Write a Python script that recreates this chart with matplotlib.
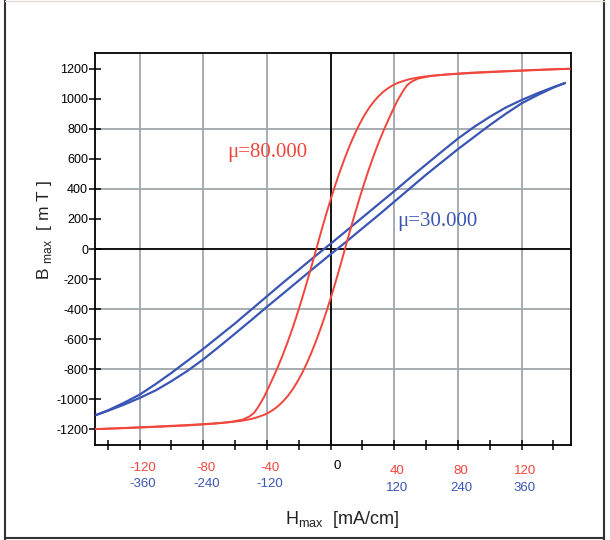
import numpy as np
import matplotlib
matplotlib.use('Agg')
import matplotlib.pyplot as plt
from matplotlib.lines import Line2D
from matplotlib.transforms import blended_transform_factory

plt.rcParams['font.family'] = ['Liberation Sans', 'DejaVu Sans']
plt.rcParams['mathtext.fontset'] = 'custom'
plt.rcParams['mathtext.rm'] = 'Liberation Sans'

RED = '#f0463c'
BLUE = '#3a55b4'
GRID = '#9ea7ab'

# mu = 80.000 loop, H in mA/cm (red scale)
red_desc_H = [-150, -135, -120, -105, -90, -80, -70, -62, -55, -51,
              -48, -46, -44, -42, -39, -36, -33, -30, -27, -24,
              -21, -18, -15, -12, -9, -6, -3, 0, 3, 6,
              9, 12, 15, 18, 21, 24, 27, 30, 33, 36,
              39, 42, 46, 50, 56, 64, 75, 90, 105, 120,
              135, 150]
red_desc_B = [-1200, -1195, -1189, -1182, -1175, -1168, -1160, -1150, -1135, -1115,
              -1090, -1060, -1025, -989, -923, -854, -782, -704, -620, -530,
              -434, -332, -225, -114, 0, 114, 224, 329, 428, 521,
              608, 689, 762, 828, 886, 937, 980, 1016, 1046, 1070,
              1090, 1105, 1120, 1132, 1144, 1154, 1163, 1172, 1180, 1187,
              1194, 1200]
red_asc_H = [-150, -135, -120, -105, -90, -75, -64, -56, -50, -46,
             -42, -39, -36, -33, -30, -27, -24, -21, -18, -15,
             -12, -9, -6, -3, 0, 3, 6, 9, 12, 15,
             18, 21, 24, 27, 30, 33, 36, 39, 42, 44,
             46, 48, 51, 55, 62, 70, 80, 90, 105, 120,
             135, 150]
red_asc_B = [-1200, -1194, -1187, -1180, -1172, -1163, -1154, -1144, -1132, -1120,
             -1105, -1090, -1070, -1046, -1016, -980, -937, -886, -828, -762,
             -689, -608, -521, -428, -329, -224, -114, 0, 114, 225,
             332, 434, 530, 620, 704, 782, 854, 923, 989, 1025,
             1060, 1090, 1115, 1135, 1150, 1160, 1168, 1175, 1182, 1189,
             1195, 1200]

# mu = 30.000 loop, H in mA/cm (blue scale)
blue_desc_H = [-441, -420, -390, -360, -330, -300, -270, -240, -210, -180, -150, -120, -90, -60, -30,
               0, 30, 60, 90, 120, 150, 180, 210, 240, 270, 300, 330, 360, 390, 420, 441]
blue_desc_B = [-1104, -1075, -1025, -970, -900, -825, -745, -665, -580, -495, -405, -315, -225, -138, -50,
               35, 122, 210, 298, 385, 475, 563, 650, 735, 812, 880, 942, 992, 1037, 1078, 1104]
blue_asc_H = [-441, -420, -390, -360, -330, -300, -270, -240, -210, -180, -150, -120, -90, -60, -30,
              0, 30, 60, 90, 120, 150, 180, 210, 240, 270, 300, 330, 360, 390, 420, 441]
blue_asc_B = [-1104, -1078, -1037, -992, -942, -880, -812, -735, -650, -563, -475, -385, -298, -210, -122,
              -35, 50, 138, 225, 315, 405, 495, 580, 665, 745, 825, 900, 970, 1025, 1075, 1104]

red_ticks = [-120, -80, -40, 40, 80, 120]
blue_ticks = [-360, -240, -120, 120, 240, 360]
y_ticks = list(range(-1200, 1201, 200))

fig = plt.figure(figsize=(6.1, 5.4), dpi=100)
ax = fig.add_axes([95 / 610, 1 - 445 / 540, 476 / 610, 392 / 540])
ax.set_xlim(-148, 151)
ax.set_ylim(-1305, 1305)

# grid
for g in [-120, -80, -40, 40, 80, 120]:
    ax.axvline(g, color=GRID, lw=1.3, zorder=1)
for g in [-800, -400, 400, 800]:
    ax.axhline(g, color=GRID, lw=1.3, zorder=1)
ax.axvline(0, color='black', lw=1.3, zorder=2)
ax.axhline(0, color='black', lw=1.3, zorder=2)

# curves (blue loop drawn on the red H scale: 1 red unit = 3 blue units)
ax.plot(np.array(blue_desc_H) / 3, blue_desc_B, color=BLUE, lw=1.6, zorder=3)
ax.plot(np.array(blue_asc_H) / 3, blue_asc_B, color=BLUE, lw=1.6, zorder=3)
ax.plot(red_desc_H, red_desc_B, color=RED, lw=1.4, zorder=4)
ax.plot(red_asc_H, red_asc_B, color=RED, lw=1.4, zorder=4)

ax.text(-65, 640, 'μ=80.000', color=RED, fontsize=15, family=['Liberation Serif'],
        ha='left', va='center')
ax.text(42, 180, 'μ=30.000', color=BLUE, fontsize=15, family=['Liberation Serif'],
        ha='left', va='center')

# axes styling
for s in ax.spines.values():
    s.set_linewidth(1.3)
ax.set_xticks(range(-140, 141, 20))
ax.set_xticklabels([])
ax.set_yticks(y_ticks)
ax.set_yticklabels([str(v) for v in y_ticks], fontsize=9)
ax.tick_params(axis='x', direction='inout', length=7, width=1.1)
ax.tick_params(axis='y', direction='inout', length=8, width=1.1, pad=1)

trans = blended_transform_factory(ax.transData, fig.transFigure)
for v in red_ticks:
    yy = 468 if v < 0 else 471
    ax.text(v + 2, 1 - yy / 540, str(v), color=RED, fontsize=9.5, ha='center', va='center', transform=trans)
for v in blue_ticks:
    yy = 484 if v < 0 else 488
    ax.text(v / 3 + 2, 1 - yy / 540, str(v), color=BLUE, fontsize=9.5, ha='center', va='center', transform=trans)
ax.text(4, 1 - 466 / 540, '0', color='black', fontsize=9.5, ha='center', va='center', transform=trans)

fig.text(342 / 610, 1 - 519 / 540, r'H$_{\mathregular{max}}$  [mA/cm]', fontsize=13,
         ha='center', va='center', color='#222222')
fig.text(44 / 610, 1 - 230 / 540, r'B $_{\mathregular{max}}$  [ m T ]', fontsize=12.5,
         ha='center', va='center', rotation=90, color='#222222')

# outer frame
fig.add_artist(Line2D([5 / 610, 5 / 610], [1 / 540, 1], transform=fig.transFigure, color='#333333', lw=1.5))
fig.add_artist(Line2D([604 / 610, 604 / 610], [1 / 540, 1], transform=fig.transFigure, color='#333333', lw=1.5))
fig.add_artist(Line2D([5 / 610, 604 / 610], [2 / 540, 2 / 540], transform=fig.transFigure, color='#333333', lw=1.5))
fig.add_artist(Line2D([5 / 610, 604 / 610], [539 / 540, 539 / 540], transform=fig.transFigure, color='#e8dcd8', lw=1))

fig.savefig('out.png', dpi=100)
